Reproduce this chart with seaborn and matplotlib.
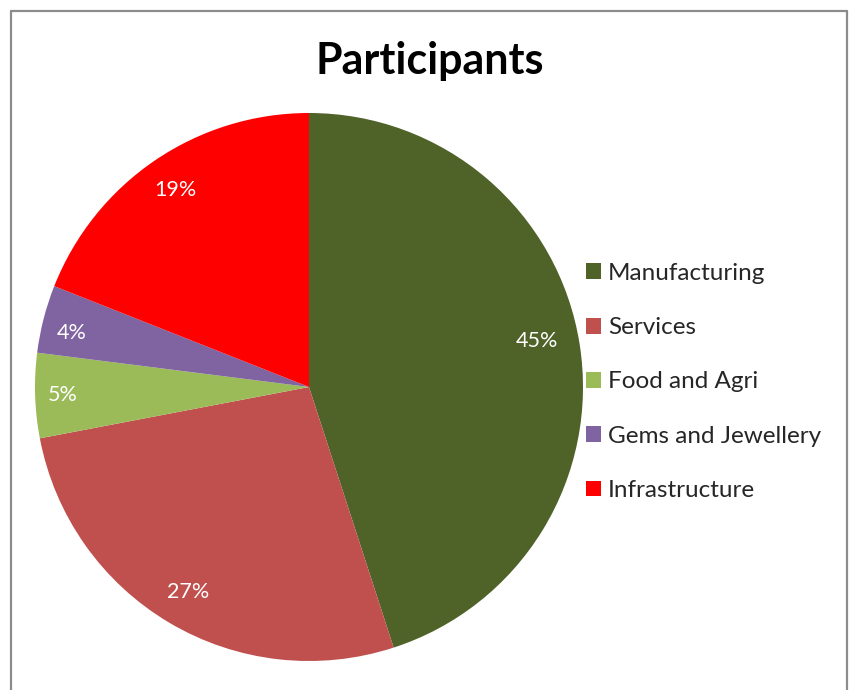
import matplotlib
matplotlib.use('Agg')
import numpy as np
import matplotlib.pyplot as plt
import seaborn as sns
from matplotlib.lines import Line2D

# data
sectors = ['Manufacturing', 'Services', 'Food and Agri', 'Gems and Jewellery', 'Infrastructure']
shares = [45, 27, 5, 4, 19]
colors = ['#4F6228', '#C0504D', '#9BBB59', '#8064A2', '#FF0000']
# percent label placement: fraction of radius and small angle nudge (deg)
label_dist = [0.85, 0.87, 0.90, 0.89, 0.87]
label_turn = [2.5, 0, 0, 1.5, 0]

sns.set_theme(style='white')
plt.rcParams['font.family'] = ['Lato', 'DejaVu Sans']

W, H = 854, 690
fig = plt.figure(figsize=(W / 100, H / 100), dpi=100)
fig.patch.set_facecolor('white')

# pie centre ~ (309, 387) px, radius ~274 px
cx, cy, r = 309, 387, 274
ax = fig.add_axes([(cx - r) / W, (H - cy - r) / H, 2 * r / W, 2 * r / H])

wedges, texts, autotexts = ax.pie(
    shares, colors=colors, startangle=90, counterclock=False,
    autopct='%1.0f%%', pctdistance=0.85,
    wedgeprops={'linewidth': 0, 'edgecolor': 'none'},
    textprops={'color': 'white', 'fontsize': 15.5})
for t, d, turn in zip(autotexts, label_dist, label_turn):
    x, y = t.get_position()
    ang = np.arctan2(y, x) + np.deg2rad(turn)
    t.set_position((d * np.cos(ang), d * np.sin(ang)))
ax.set_aspect('equal')
ax.set_xlim(-1, 1)
ax.set_ylim(-1, 1)

fig.text(430 / W, 1 - 61 / H, 'Participants', ha='center', va='center',
         fontsize=31, fontweight='bold', color='black')

leg = fig.legend(wedges, sectors, loc='center left',
                 bbox_to_anchor=(576 / W, 1 - 382 / H), frameon=False,
                 fontsize=17.5, handlelength=0.62, handleheight=0.62,
                 handletextpad=0.3, labelspacing=1.37, borderaxespad=0)

# outer chart frame (bottom edge lies outside the picture)
fr = dict(color='#8C8C8C', linewidth=1.6, transform=fig.transFigure)
fig.add_artist(Line2D([11 / W, 11 / W], [0, 1 - 11 / H], **fr))
fig.add_artist(Line2D([11 / W, 847 / W], [1 - 11 / H, 1 - 11 / H], **fr))
fig.add_artist(Line2D([847 / W, 847 / W], [0, 1 - 11 / H], **fr))

fig.savefig('out.png', dpi=100, facecolor='white')
